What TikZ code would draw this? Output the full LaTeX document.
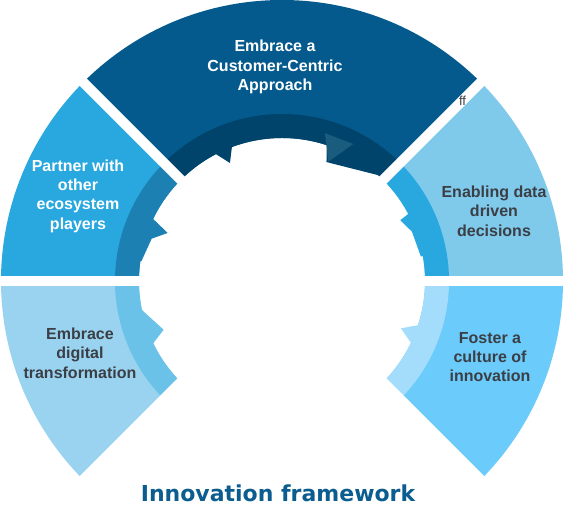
\documentclass[tikz,border=0pt]{standalone}
\usepackage{fontspec}
\setmainfont{Liberation Sans}
\newfontfamily\headfont{DejaVu Sans}

\definecolor{topBody}{HTML}{045A8D}
\definecolor{topBand}{HTML}{00446C}
\definecolor{topArrow}{HTML}{1A5C7E}
\definecolor{partBody}{HTML}{29A8E0}
\definecolor{partBand}{HTML}{1D80B2}
\definecolor{dataBody}{HTML}{7FC9EB}
\definecolor{dataBand}{HTML}{29A8E0}
\definecolor{digiBody}{HTML}{99D3F0}
\definecolor{digiBand}{HTML}{6BC2E8}
\definecolor{cultBody}{HTML}{6BCBFA}
\definecolor{cultBand}{HTML}{A3DDFB}
\definecolor{textDark}{HTML}{3B3F45}
\definecolor{titleBlue}{HTML}{0B5C8F}

\begin{document}
\begin{tikzpicture}[
  x=1pt, y=1pt,
  segtext/.style={align=center, font=\fontsize{16}{19.3}\selectfont\bfseries},
  gap/.style={white, line width=10pt}
]

% -----------------------
% Layout parameters
% -----------------------
\def\rin{143pt}
\def\rband{167pt}
\def\rout{281pt}

\useasboundingbox (-282,-240) rectangle (282,281);

% -----------------------
% Segment bodies
% -----------------------
\fill[topBody]  (45:\rin) arc[start angle=45, end angle=135, radius=\rin]
  -- (135:\rout) arc[start angle=135, end angle=45, radius=\rout] -- cycle;
\fill[partBody] (135:\rin) arc[start angle=135, end angle=180, radius=\rin]
  -- (180:\rout) arc[start angle=180, end angle=135, radius=\rout] -- cycle;
\fill[dataBody] (0:\rin) arc[start angle=0, end angle=45, radius=\rin]
  -- (45:\rout) arc[start angle=45, end angle=0, radius=\rout] -- cycle;
\fill[digiBody] (180:\rin) arc[start angle=180, end angle=225, radius=\rin]
  -- (225:\rout) arc[start angle=225, end angle=180, radius=\rout] -- cycle;
\fill[cultBody] (-45:\rin) arc[start angle=-45, end angle=0, radius=\rin]
  -- (0:\rout) arc[start angle=0, end angle=-45, radius=\rout] -- cycle;

% -----------------------
% Inner arrow bands
% -----------------------
\fill[topBand]  (45:\rin) arc[start angle=45, end angle=135, radius=\rin]
  -- (135:\rband) arc[start angle=135, end angle=45, radius=\rband] -- cycle;
\fill[partBand] (135:\rin) arc[start angle=135, end angle=180, radius=\rin]
  -- (180:\rband) arc[start angle=180, end angle=135, radius=\rband] -- cycle;
\fill[dataBand] (0:\rin) arc[start angle=0, end angle=45, radius=\rin]
  -- (45:\rband) arc[start angle=45, end angle=0, radius=\rband] -- cycle;
\fill[digiBand] (180:\rin) arc[start angle=180, end angle=225, radius=\rin]
  -- (225:\rband) arc[start angle=225, end angle=180, radius=\rband] -- cycle;
\fill[cultBand] (-45:\rin) arc[start angle=-45, end angle=0, radius=\rin]
  -- (0:\rband) arc[start angle=0, end angle=-45, radius=\rband] -- cycle;

% barbs on the inner edge
\fill[topBand]  (118:150pt) -- (117.5:143pt) -- (113.8:129pt) -- (110.5:143pt) -- (110:150pt) -- cycle;
\fill[topBand]  (72:150pt) -- (71.6:142pt) -- (69.5:127pt) -- (47:144pt) -- (45:150pt) -- cycle;
\fill[topArrow] (73.8:154pt) -- (62.5:154.5pt) -- (68.8:128pt) -- cycle;
\fill[partBand] (153:150pt) -- (154.3:143pt) -- (157.2:124pt) -- (162:137pt) -- (172:142pt) -- (172:150pt) -- cycle;
\fill[dataBand] (29:150pt) -- (28:143pt) -- (27.2:133pt) -- (20.8:139pt) -- (10:141pt) -- (10:150pt) -- cycle;
\fill[digiBand] (191:150pt) -- (191.7:143pt) -- (202.4:128pt) -- (205.8:143pt) -- (206:150pt) -- cycle;
\fill[cultBand] (-17:150pt) -- (-18:143pt) -- (-21.7:128pt) -- (-25.4:142pt) -- (-26:150pt) -- cycle;

% -----------------------
% Gaps between segments
% -----------------------
\draw[gap] (0,0) -- (135:300pt);
\draw[gap] (0,0) -- (45:300pt);
\draw[gap] (0,0) -- (225:300pt);
\draw[gap] (0,0) -- (-45:300pt);
\draw[gap] (-300,0) -- (300,0);

% -----------------------
% Texts
% -----------------------
\node[segtext, text=white] (customer) at (-7,214) {Embrace a\\Customer-Centric\\Approach};
\node[segtext, text=white] (partner) at (-204,85) {Partner with\\other\\ecosystem\\players};
\node[segtext, text=textDark] (data) at (212,70) {Enabling data\\driven\\decisions};
\node[segtext, text=textDark] (digital) at (-202,-72) {Embrace\\digital\\transformation};
\node[segtext, text=textDark] (culture) at (208,-76) {Foster a\\culture of\\innovation};

\node[font=\fontsize{13}{13}\selectfont, text=textDark] (stray) at (180.5,180) {ff};

\node[font={\headfont\fontsize{22}{26}\selectfont\bfseries}, text=titleBlue] (title) at (-4,-212) {Innovation framework};

\end{tikzpicture}
\end{document}
